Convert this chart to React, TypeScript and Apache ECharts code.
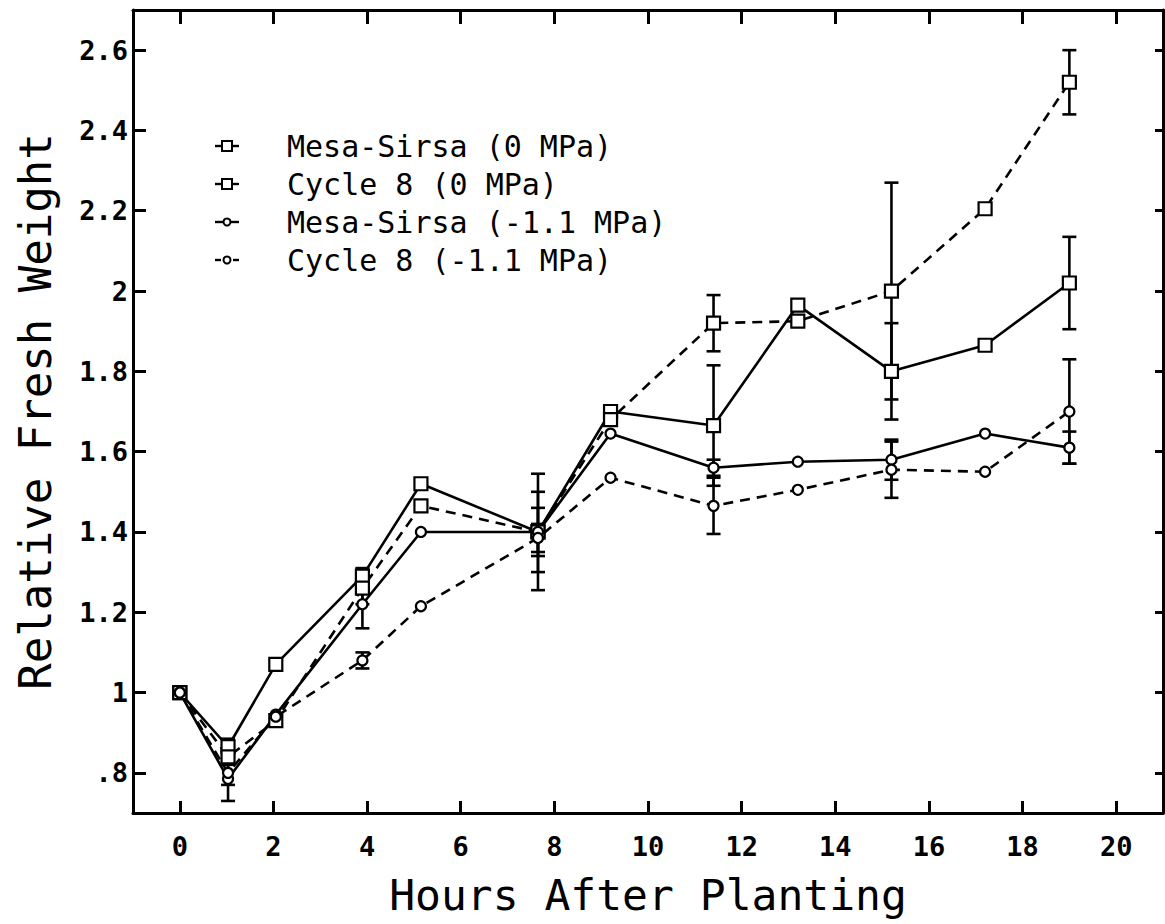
import React, { useEffect, useRef } from "react";
import * as echarts from "echarts";

// ---- data ----
const hours = [0, 1.03, 2.05, 3.9, 5.15, 7.65, 9.2, 11.4, 13.2, 15.2, 17.2, 19.0];

const mesa0 = [1.0, 0.865, 1.07, 1.29, 1.52, 1.4, 1.7, 1.665, 1.965, 1.8, 1.865, 2.02];
const cycle0 = [1.0, 0.84, 0.93, 1.26, 1.465, 1.4, 1.68, 1.92, 1.925, 2.0, 2.205, 2.52];
const mesaNeg = [1.0, 0.785, 0.945, 1.22, 1.4, 1.4, 1.645, 1.56, 1.575, 1.58, 1.645, 1.61];
const cycleNeg = [1.0, 0.8, 0.94, 1.08, 1.215, 1.385, 1.535, 1.465, 1.505, 1.555, 1.55, 1.7];

const mesa0Err = [0, 0.02, 0, 0.02, 0, 0.145, 0, 0.15, 0, 0.12, 0, 0.115];
const cycle0Err = [0, 0.02, 0, 0.04, 0, 0.1, 0, 0.07, 0, 0.27, 0, 0.08];
const mesaNegErr = [0, 0.055, 0, 0.06, 0, 0.06, 0, 0.02, 0, 0.05, 0, 0.04];
const cycleNegErr = [0, 0.03, 0, 0.02, 0, 0.035, 0, 0.07, 0, 0.07, 0, 0.13];

const seriesNames = [
  "Mesa-Sirsa (0 MPa)",
  "Cycle 8 (0 MPa)",
  "Mesa-Sirsa (-1.1 MPa)",
  "Cycle 8 (-1.1 MPa)",
];
const seriesSymbols = ["rect", "rect", "circle", "circle"];
const seriesDashed = [false, true, false, true];

const xTickValues = [0, 2, 4, 6, 8, 10, 12, 14, 16, 18, 20];
const yTickValues = [0.8, 1.0, 1.2, 1.4, 1.6, 1.8, 2.0, 2.2, 2.4, 2.6];
const yTickLabels = [".8", "1", "1.2", "1.4", "1.6", "1.8", "2", "2.2", "2.4", "2.6"];

const FONT = "DejaVu Sans Mono";

export default function App() {
  const ref = useRef<HTMLDivElement>(null);

  useEffect(() => {
    if (!ref.current) return;
    const chart = echarts.init(ref.current, null, { renderer: "svg" });

    const pts = (ys: number[]) => hours.map((h, i) => [h, ys[i]]);
    const errPts = (ys: number[], es: number[]) => hours.map((h, i) => [h, ys[i], es[i]]);

    const lineSeries = (idx: number, ys: number[]) => ({
      name: seriesNames[idx],
      type: "line",
      data: pts(ys),
      symbol: seriesSymbols[idx],
      symbolSize: seriesSymbols[idx] === "rect" ? 13 : 10,
      showSymbol: true,
      color: "#000",
      lineStyle: {
        color: "#000",
        width: 2.6,
        type: seriesDashed[idx] ? [10, 7] : "solid",
      },
      itemStyle: { color: "#fff", borderColor: "#000", borderWidth: 2.2 },
      z: 3,
    });

    const errSeries = (idx: number, ys: number[], es: number[]) => ({
      name: seriesNames[idx] + " error",
      type: "custom",
      data: errPts(ys, es),
      encode: { x: 0, y: 1 },
      z: 2,
      silent: true,
      renderItem: (params: any, api: any) => {
        const x = api.value(0);
        const y = api.value(1);
        const e = api.value(2);
        if (!e) return null;
        const top = api.coord([x, y + e]);
        const bot = api.coord([x, y - e]);
        const hw = 7;
        const st = { stroke: "#000", lineWidth: 2.6 };
        return {
          type: "group",
          children: [
            { type: "line", shape: { x1: top[0], y1: top[1], x2: bot[0], y2: bot[1] }, style: st },
            { type: "line", shape: { x1: top[0] - hw, y1: top[1], x2: top[0] + hw, y2: top[1] }, style: st },
            { type: "line", shape: { x1: bot[0] - hw, y1: bot[1], x2: bot[0] + hw, y2: bot[1] }, style: st },
          ],
        };
      },
    });

    // legend drawn as graphic (line piece + symbol + text)
    const legendRowsY = [146, 184, 222, 260];
    const legendX0 = 215;
    const legendX1 = 239;
    const legendGraphics: any[] = [];
    seriesNames.forEach((name, i) => {
      const cy = legendRowsY[i];
      const cx = (legendX0 + legendX1) / 2;
      const st = { stroke: "#000", lineWidth: 2.4 };
      if (seriesDashed[i]) {
        legendGraphics.push({ type: "line", shape: { x1: legendX0, y1: cy, x2: legendX0 + 6, y2: cy }, style: st });
        legendGraphics.push({ type: "line", shape: { x1: legendX1 - 6, y1: cy, x2: legendX1, y2: cy }, style: st });
      } else {
        legendGraphics.push({ type: "line", shape: { x1: legendX0, y1: cy, x2: legendX1, y2: cy }, style: st });
      }
      if (seriesSymbols[i] === "rect") {
        legendGraphics.push({
          type: "rect",
          shape: { x: cx - 5, y: cy - 5, width: 10, height: 10 },
          style: { fill: "#fff", stroke: "#000", lineWidth: 2 },
        });
      } else {
        legendGraphics.push({
          type: "circle",
          shape: { cx, cy, r: 3.5 },
          style: { fill: "#fff", stroke: "#000", lineWidth: 2 },
        });
      }
      legendGraphics.push({
        type: "text",
        x: 287,
        y: cy,
        style: {
          text: name,
          fontFamily: FONT,
          fontSize: 30,
          fill: "#000",
          verticalAlign: "middle",
          align: "left",
        },
      });
    });

    const axisLineStyle = { color: "#000", width: 3 };
    const tickLabelStyle = {
      fontFamily: FONT,
      fontSize: 27,
      fontWeight: "bold" as const,
      color: "#000",
    };
    const tickStyle = { color: "#000", width: 3 };

    chart.setOption({
      animation: false,
      backgroundColor: "#fff",
      grid: { left: 133, right: 2, top: 10, bottom: 111 },
      graphic: legendGraphics,
      xAxis: [
        {
          type: "value",
          min: -1,
          max: 21,
          position: "bottom",
          axisLine: { show: true, onZero: false, lineStyle: axisLineStyle },
          axisTick: { show: true, inside: true, length: 12, lineStyle: tickStyle, customValues: xTickValues },
          axisLabel: { ...tickLabelStyle, margin: 20, customValues: xTickValues },
          splitLine: { show: false },
          name: "Hours After Planting",
          nameLocation: "middle",
          nameGap: 60,
          nameTextStyle: { fontFamily: FONT, fontSize: 43, color: "#000" },
        },
        {
          type: "value",
          min: -1,
          max: 21,
          position: "top",
          axisLine: { show: true, onZero: false, lineStyle: axisLineStyle },
          axisTick: { show: true, inside: true, length: 14, lineStyle: tickStyle, customValues: xTickValues },
          axisLabel: { show: false, customValues: xTickValues },
          splitLine: { show: false },
        },
      ],
      yAxis: [
        {
          type: "value",
          min: 0.7,
          max: 2.7,
          position: "left",
          axisLine: { show: true, onZero: false, lineStyle: axisLineStyle },
          axisTick: { show: true, inside: true, length: 13, lineStyle: tickStyle, customValues: yTickValues },
          axisLabel: {
            ...tickLabelStyle,
            margin: 5,
            customValues: yTickValues,
            formatter: (v: number) => {
              const i = yTickValues.findIndex((t) => Math.abs(t - v) < 1e-6);
              return i >= 0 ? yTickLabels[i] : "";
            },
          },
          splitLine: { show: false },
          name: "Relative Fresh Weight",
          nameLocation: "middle",
          nameGap: 76,
          nameTextStyle: { fontFamily: FONT, fontSize: 44, color: "#000" },
        },
        {
          type: "value",
          min: 0.7,
          max: 2.7,
          position: "right",
          axisLine: { show: true, onZero: false, lineStyle: axisLineStyle },
          axisTick: { show: true, inside: true, length: 8, lineStyle: tickStyle, customValues: yTickValues },
          axisLabel: { show: false, customValues: yTickValues },
          splitLine: { show: false },
        },
      ],
      series: [
        errSeries(0, mesa0, mesa0Err),
        errSeries(1, cycle0, cycle0Err),
        errSeries(2, mesaNeg, mesaNegErr),
        errSeries(3, cycleNeg, cycleNegErr),
        lineSeries(0, mesa0),
        lineSeries(1, cycle0),
        lineSeries(2, mesaNeg),
        lineSeries(3, cycleNeg),
      ],
    });

    return () => chart.dispose();
  }, []);

  return (
    <div
      ref={ref}
      style={{ position: "absolute", left: 0, top: 0, width: 1165, height: 924 }}
    />
  );
}
